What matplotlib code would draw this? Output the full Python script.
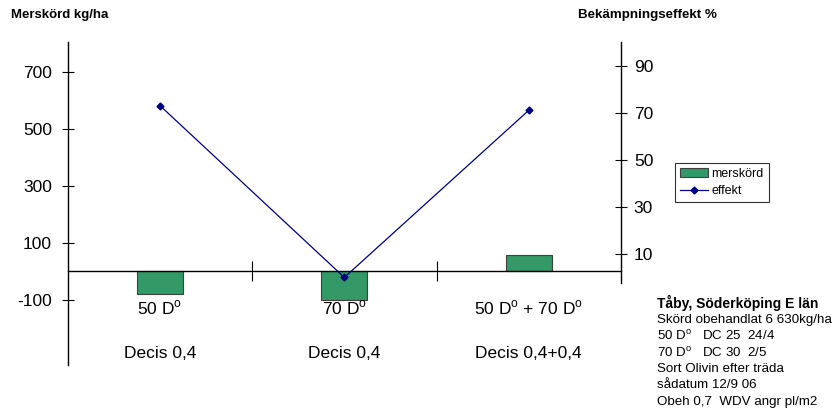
import matplotlib
matplotlib.use("Agg")
import matplotlib.pyplot as plt
import matplotlib.transforms as mtransforms
from matplotlib.patches import Patch
from matplotlib.lines import Line2D

plt.rcParams['font.family'] = ['Liberation Sans', 'DejaVu Sans']
plt.rcParams['mathtext.fontset'] = 'custom'
plt.rcParams['mathtext.rm'] = 'Liberation Sans'

# Data
treatments = ["50 D$^{\\rm o}$", "70 D$^{\\rm o}$", "50 D$^{\\rm o}$ + 70 D$^{\\rm o}$"]
products = ["Decis 0,4", "Decis 0,4", "Decis 0,4+0,4"]
merskord = [-81, -100, 56]
effekt = [73, 0, 71]
left_ticks = [-100, 100, 300, 500, 700]
right_ticks = [10, 30, 50, 70, 90]
info_title = "Tåby, Söderköping E län"
info_lines = ["Skörd obehandlat 6 630kg/ha",
              "50 D$^{\\rm o}$   DC 25  24/4",
              "70 D$^{\\rm o}$   DC 30  2/5",
              "Sort Olivin efter träda",
              "sådatum 12/9 06",
              "Obeh 0,7  WDV angr pl/m2"]

W, H = 840, 417
fig = plt.figure(figsize=(W / 100, H / 100), dpi=100)
L, R, T, B = 67.7, 621, 42, 365
ax = fig.add_axes([L / W, 1 - B / H, (R - L) / W, (B - T) / H])
ax2 = ax.twinx()

x = list(range(1, len(merskord) + 1))
ax.bar(x, merskord, width=0.25, color='#339966', edgecolor='#404040', linewidth=0.8, zorder=2)
ax.set_xlim(0.5, len(x) + 0.5)
ax.set_ylim(-329, 804)
ax.set_yticks(left_ticks)
ax.set_yticklabels([str(v) for v in left_ticks], fontsize=12.5)
ax.tick_params(axis='y', direction='inout', length=8.5, width=0.8, pad=7)

for s in ['top', 'right']:
    ax.spines[s].set_visible(False)
ax.spines['left'].set_linewidth(1.0)
ax.spines['bottom'].set_position(('data', 0))
ax.spines['bottom'].set_linewidth(1.0)
ax.spines['bottom'].set_zorder(3)
ax.set_xticks([])
ax.set_xticks([i + 0.5 for i in x[:-1]], minor=True)
ax.tick_params(axis='x', which='minor', direction='inout', length=14, width=0.8)
ax.set_xticklabels([], minor=True)

trans = mtransforms.blended_transform_factory(ax.transData, fig.transFigure)
for xi, t, p in zip(x, treatments, products):
    ax.text(xi, 1 - 308 / H, t, transform=trans, ha='center', va='center', fontsize=12.5)
    ax.text(xi, 1 - 353 / H, p, transform=trans, ha='center', va='center', fontsize=12.5)

ax2.plot(x, effekt, color='#000080', linewidth=0.9, marker='D', markersize=3.5, zorder=4)
ax2.set_ylim(-37.2, 100)
ax2.set_yticks(right_ticks)
ax2.set_yticklabels([str(v) for v in right_ticks], fontsize=12.5)
ax2.tick_params(axis='y', direction='inout', length=8.5, width=0.8, pad=5)
for s in ['top', 'left', 'bottom']:
    ax2.spines[s].set_visible(False)
ax2.spines['right'].set_bounds(-2.3, 100)
ax2.spines['right'].set_linewidth(1.0)

fig.text(11 / W, 1 - 15 / H, "Merskörd kg/ha", fontsize=9.5, fontweight='bold', ha='left', va='center')
fig.text(578 / W, 1 - 15 / H, "Bekämpningseffekt %", fontsize=9.6, fontweight='bold', ha='left', va='center')

handles = [Patch(facecolor='#339966', edgecolor='#404040', linewidth=0.8),
           Line2D([0], [0], color='#000080', linewidth=0.9, marker='D', markersize=3.5)]
leg = fig.legend(handles, ["merskörd", "effekt"], loc='upper left',
                 bbox_to_anchor=(675 / W, 1 - 163 / H), fontsize=9, frameon=True,
                 fancybox=False, edgecolor='black', borderpad=0.4, handlelength=2.2,
                 handletextpad=0.3, labelspacing=0.4, borderaxespad=0)
leg.get_frame().set_linewidth(0.8)

fig.text(657 / W, 1 - 303 / H, info_title, fontsize=10, fontweight='bold', ha='left', va='center')
for i, line in enumerate(info_lines):
    fig.text(657 / W, 1 - (319.5 + 16.5 * i) / H, line, fontsize=9.6, ha='left', va='center')

fig.savefig("out.png", dpi=100)
